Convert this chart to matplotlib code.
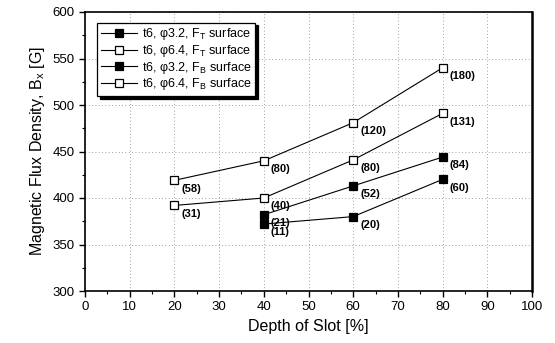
import matplotlib
matplotlib.use("Agg")
import matplotlib.pyplot as plt
from matplotlib.ticker import MultipleLocator

plt.rcParams["font.family"] = ["Liberation Sans", "DejaVu Sans"]
plt.rcParams["mathtext.fontset"] = "custom"
plt.rcParams["mathtext.rm"] = "Liberation Sans"
plt.rcParams["mathtext.it"] = "Liberation Sans"

# data
x_small = [40, 60, 80]
x_large = [20, 40, 60, 80]

ft_32 = [372, 380, 420]
ft_32_lbl = ["(11)", "(20)", "(60)"]
ft_64 = [392, 400, 441, 491]
ft_64_lbl = ["(31)", "(40)", "(80)", "(131)"]
fb_32 = [382, 413, 444]
fb_32_lbl = ["(21)", "(52)", "(84)"]
fb_64 = [419, 440, 481, 540]
fb_64_lbl = ["(58)", "(80)", "(120)", "(180)"]

names = [r"t6, φ3.2, $\mathregular{F_T}$ surface",
         r"t6, φ6.4, $\mathregular{F_T}$ surface",
         r"t6, φ3.2, $\mathregular{F_B}$ surface",
         r"t6, φ6.4, $\mathregular{F_B}$ surface"]

fig = plt.figure(figsize=(5.55, 3.43), dpi=100)
ax = fig.add_axes([85 / 555, 1 - 291 / 343, 447 / 555, 279 / 343])

series = [
    (x_small, ft_32, ft_32_lbl, "k"),
    (x_large, ft_64, ft_64_lbl, "white"),
    (x_small, fb_32, fb_32_lbl, "k"),
    (x_large, fb_64, fb_64_lbl, "white"),
]

for (xs, ys, lbls, fc), name in zip(series, names):
    ax.plot(xs, ys, "-s", color="k", lw=0.8, ms=6, mfc=fc, mec="k",
            mew=0.9, label=name, zorder=3)
    for xv, yv, t in zip(xs, ys, lbls):
        ax.annotate(t, (xv, yv), xytext=(5, -6), textcoords="offset points",
                    ha="left", va="center", fontsize=8, fontweight="bold")

ax.set_xlim(0, 100)
ax.set_ylim(300, 600)
ax.xaxis.set_major_locator(MultipleLocator(10))
ax.xaxis.set_minor_locator(MultipleLocator(5))
ax.yaxis.set_major_locator(MultipleLocator(50))
ax.yaxis.set_minor_locator(MultipleLocator(25))
ax.tick_params(which="major", direction="out", length=4, width=1, labelsize=9.5)
ax.tick_params(which="minor", direction="out", length=2, width=0.8)
ax.grid(True, which="major", ls=(0, (1, 3)), lw=0.6, color="0.5")

for s in ax.spines.values():
    s.set_linewidth(1.2)
ax.spines["right"].set_linewidth(1.8)

ax.set_xlabel("Depth of Slot [%]", fontsize=11.5)
ax.set_ylabel(r"Magnetic Flux Density, B$_\mathregular{x}$ [G]", fontsize=11.5)

leg = ax.legend(loc="upper left", bbox_to_anchor=(0.027, 0.962), fontsize=9,
                fancybox=False, edgecolor="k", framealpha=1,
                shadow={"color": "k", "alpha": 1}, handlelength=2.9,
                borderpad=0.3, labelspacing=0.05, handletextpad=0.4,
                borderaxespad=0)
leg.get_frame().set_linewidth(0.9)

fig.savefig("out.png", dpi=100)
